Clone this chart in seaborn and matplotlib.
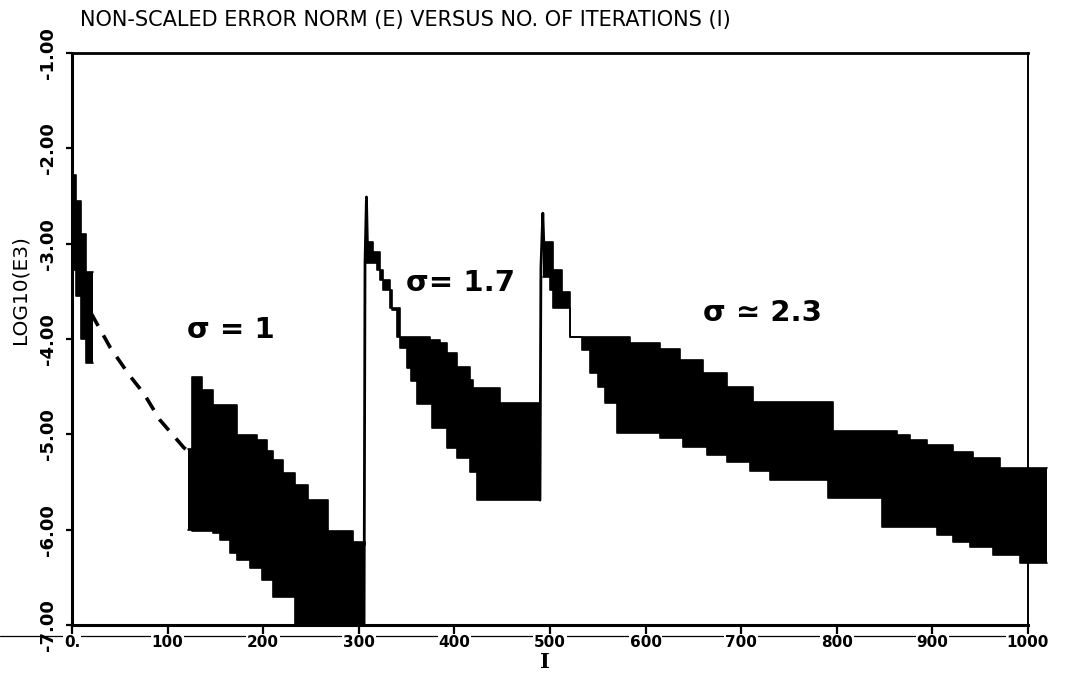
import numpy as np
import matplotlib
matplotlib.use("Agg")
import matplotlib.pyplot as plt
from matplotlib.lines import Line2D
import seaborn as sns

# ---------------- data ----------------
# sigma = 1, first few iterations (envelope of the oscillating error)
a_x  = [0, 4, 9, 15, 22]
a_up = [-2.28, -2.55, -2.90, -3.30, -3.30]
a_lo = [-3.28, -3.55, -4.00, -4.25, -4.25]

# dashed trend line (sigma = 1)
d_x = [20, 40, 60, 75, 92, 105, 117, 122]
d_y = [-3.73, -4.09, -4.38, -4.57, -4.85, -5.00, -5.14, -5.18]

# sigma = 1 band
b_x  = [121, 125.5, 136, 147.5, 155, 165, 173, 186, 193.5, 199, 204, 210,
        220.7, 233, 247, 268, 294, 306]
b_up = [-5.15, -4.40, -4.54, -4.69, -4.69, -4.69, -5.01, -5.01, -5.06, -5.06,
        -5.17, -5.27, -5.41, -5.53, -5.69, -6.01, -6.13, -6.16]
b_lo = [-6.00, -6.01, -6.01, -6.03, -6.11, -6.24, -6.32, -6.40, -6.40, -6.53,
        -6.53, -6.71, -6.71, -7.00, -7.00, -7.00, -7.00, -7.00]

# restart spike at sigma = 1.7
s1_x = [305.5, 306.5, 308.0, 309.0]
s1_y = [-7.00, -3.20, -2.51, -3.00]

# sigma = 1.7 band
c_x  = [307, 315, 319, 322, 325, 332.6, 334.7, 340, 343, 350, 355, 361, 374.5,
        377, 385, 392, 403, 416, 419.5, 424, 448, 489.5]
c_up = [-2.98, -3.09, -3.09, -3.38, -3.38, -3.68, -3.68, -3.68, -3.98, -3.98,
        -3.98, -3.98, -4.01, -4.01, -4.04, -4.15, -4.29, -4.43, -4.51, -4.51,
        -4.67, -4.67]
c_lo = [-3.20, -3.20, -3.28, -3.28, -3.49, -3.49, -3.70, -3.98, -4.09, -4.30,
        -4.44, -4.68, -4.68, -4.93, -4.93, -5.14, -5.25, -5.39, -5.39, -5.69,
        -5.69, -5.69]

# restart spike at sigma = 2.3
s2_x = [489.5, 490.5, 492.5, 493.5]
s2_y = [-5.69, -3.25, -2.68, -3.00]

# sigma = 2.3 band
e_x  = [492.7, 500, 503, 512.5, 521, 523, 533.5, 542, 550, 557.5, 570, 584,
        615, 636, 639, 660, 664, 685, 709, 712, 730, 791, 796, 847, 863, 877,
        894, 905, 921.5, 939, 942.5, 963, 971, 992, 1020]
e_up = [-2.98, -2.98, -3.28, -3.51, -3.98, -3.98, -3.98, -3.98, -3.98, -3.98,
        -3.98, -4.04, -4.11, -4.22, -4.22, -4.36, -4.36, -4.50, -4.50, -4.66,
        -4.66, -4.66, -4.96, -4.96, -5.01, -5.06, -5.11, -5.11, -5.19, -5.19,
        -5.25, -5.25, -5.35, -5.35, -5.35]
e_lo = [-3.35, -3.49, -3.68, -3.68, -3.98, -3.98, -4.12, -4.36, -4.50, -4.67,
        -4.99, -4.99, -5.04, -5.04, -5.13, -5.13, -5.22, -5.29, -5.38, -5.38,
        -5.48, -5.67, -5.67, -5.97, -5.97, -5.97, -5.97, -6.06, -6.13, -6.18,
        -6.18, -6.27, -6.27, -6.35, -6.35]

x_ticks = [0, 100, 200, 300, 400, 500, 600, 700, 800, 900, 1000]
x_tick_labels = ["0.", "100", "200", "300", "400", "500", "600", "700", "800", "900", "1000"]
y_ticks = [-7, -6, -5, -4, -3, -2, -1]
y_tick_labels = ["-7.00", "-6.00", "-5.00", "-4.00", "-3.00", "-2.00", "-1.00"]

annotations = [("σ = 1", 166, -3.91), ("σ= 1.7", 406, -3.41), ("σ ≃ 2.3", 722, -3.73)]

title = "NON-SCALED ERROR NORM (E) VERSUS NO. OF ITERATIONS (I)"

# ---------------- figure ----------------
sns.set_theme(style="white")
plt.rcParams["font.family"] = ["DejaVu Sans"]

W, H = 1068, 677
fig = plt.figure(figsize=(W / 100, H / 100), dpi=100)
ax = fig.add_axes([72 / W, 1 - 625 / H, (1028 - 72) / W, (625 - 53) / H])

ink = "black"
for bx, bu, bl in [(a_x, a_up, a_lo), (b_x, b_up, b_lo), (c_x, c_up, c_lo), (e_x, e_up, e_lo)]:
    assert len(bx) == len(bu) == len(bl)
    poly = ax.fill_between(bx, bl, bu, step="post", color=ink, linewidth=0, zorder=3)
    poly.set_clip_on(False)
    for yy in (bu, bl):
        sns.lineplot(x=bx, y=yy, ax=ax, color=ink, linewidth=1.2,
                     drawstyle="steps-post", errorbar=None, sort=False, clip_on=False, zorder=3)

for sx, sy in [(s1_x, s1_y), (s2_x, s2_y)]:
    sns.lineplot(x=sx, y=sy, ax=ax, color=ink, linewidth=2.0, errorbar=None,
                 sort=False, clip_on=False, zorder=3)

sns.lineplot(x=d_x, y=d_y, ax=ax, color=ink, linewidth=2.6, errorbar=None,
             sort=False, zorder=3, dashes=False, linestyle=(0, (4, 3)))

ax.set_xlim(0, 1000)
ax.set_ylim(-7, -1)

ax.set_xticks(x_ticks)
ax.set_xticklabels(x_tick_labels, fontsize=11, fontweight="bold")
for t in ax.get_xticklabels():
    t.set_bbox(dict(facecolor="white", edgecolor="none", pad=0.5))
ax.set_yticks(y_ticks)
ax.set_yticklabels(y_tick_labels, fontsize=13, fontweight="bold", rotation=90,
                   va="center")
ax.tick_params(axis="x", direction="out", length=7, width=1.6, pad=0, colors=ink)
ax.tick_params(axis="y", direction="out", length=4, width=1.6, pad=7, colors=ink)
ax.xaxis.set_ticks_position("bottom")
ax.yaxis.set_ticks_position("left")

for side, lw in [("left", 2.2), ("bottom", 2.2), ("top", 2.0), ("right", 1.4)]:
    ax.spines[side].set_visible(True)
    ax.spines[side].set_color(ink)
    ax.spines[side].set_linewidth(lw)

ax.set_xlabel("")
ax.set_ylabel("")

for txt, tx, ty in annotations:
    ax.text(tx, ty, txt, fontsize=21, fontweight="semibold", ha="center", va="center",
            color=ink, zorder=4)

# thin rule running under the x tick labels
fig.add_artist(Line2D([0, 1022 / W], [1 - 636 / H, 1 - 636 / H], color=ink,
                      linewidth=0.9, zorder=-1))

fig.text(80 / W, 1 - 20 / H, title, fontsize=15, ha="left", va="center", color=ink)
fig.text(20 / W, 1 - 290 / H, "LOG10(E3)", fontsize=14.5, rotation=90, ha="center",
         va="center", color=ink)
fig.text(545 / W, 1 - 662 / H, "I", fontsize=15, fontweight="bold",
         family=["DejaVu Serif"], ha="center", va="center", color=ink)

fig.savefig("out.png", dpi=100, facecolor="white")
